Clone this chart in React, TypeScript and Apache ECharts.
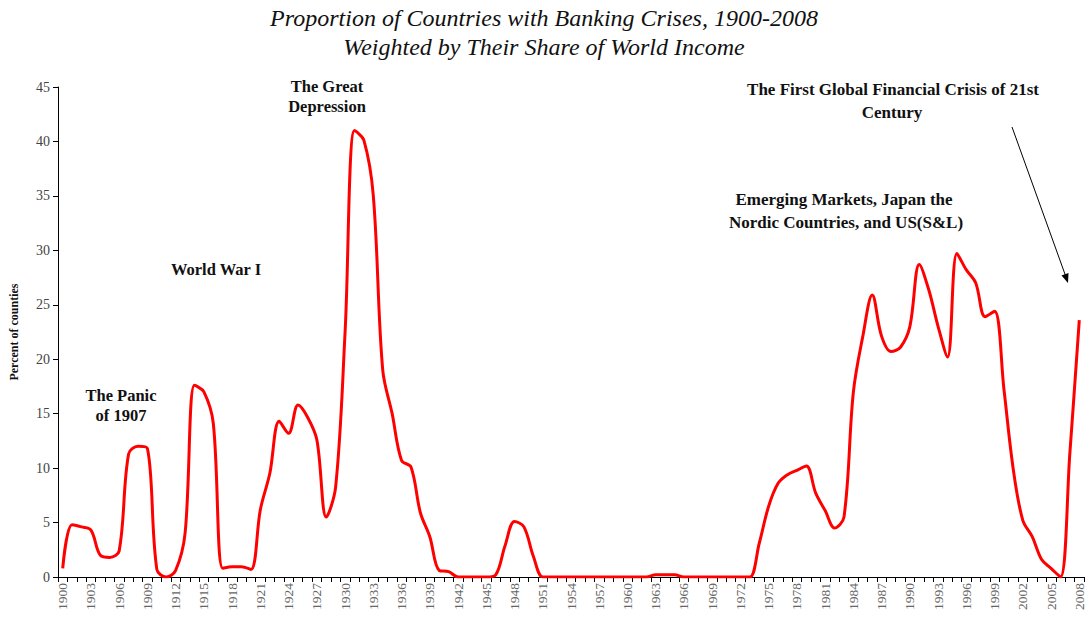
import React, { useEffect, useRef } from "react";
import * as echarts from "echarts";

const FIRST_YEAR = 1900;
const LAST_YEAR = 2008;
const years: string[] = [];
for (let y = FIRST_YEAR; y <= LAST_YEAR; y++) years.push(String(y));

// Percent of countries (weighted by share of world income), 1900-2008
const share1900s = [0.8, 4.8, 4.6, 4.3, 2.0, 1.8, 2.4, 11.3, 12.0, 11.8];
const share1910s = [0.7, 0.0, 0.6, 4.0, 17.6, 17.0, 14.1, 0.8, 0.95, 0.95];
const share1920s = [0.7, 6.2, 9.5, 14.3, 13.2, 15.8, 14.7, 12.6, 5.5, 8.3];
const share1930s = [22.5, 41.0, 40.1, 35.0, 19.0, 15.0, 10.7, 10.1, 5.9, 3.7];
const share1940s = [0.6, 0.5, 0, 0, 0, 0, 0.2, 2.9, 5.1, 4.6];
const share1950s = [1.9, 0, 0, 0, 0, 0, 0, 0, 0, 0];
const share1960s = [0, 0, 0, 0.2, 0.2, 0.2, 0, 0, 0, 0];
const share1970s = [0, 0, 0, 0, 3.1, 6.5, 8.6, 9.4, 9.8, 10.2];
const share1980s = [7.7, 6.1, 4.5, 5.5, 17.0, 22.1, 25.9, 22.1, 20.7, 21.1];
const share1990s = [23.0, 28.7, 26.4, 23.0, 20.2, 29.7, 28.2, 27.0, 23.9, 24.4];
const share2000s = [17.2, 9.8, 5.2, 3.7, 1.6, 0.8, 0, 11.4, 23.6];

const shares = [
  ...share1900s, ...share1910s, ...share1920s, ...share1930s, ...share1940s,
  ...share1950s, ...share1960s, ...share1970s, ...share1980s, ...share1990s, ...share2000s,
];

const yTicks = { min: 0, max: 45, interval: 5 };

const titleLines = [
  "Proportion of Countries with Banking Crises, 1900-2008",
  "Weighted by Their Share of World Income",
];
const yAxisName = "Percent of counties";

const serif = "'Liberation Serif', 'Times New Roman', serif";

export default function App() {
  const ref = useRef<HTMLDivElement>(null);
  useEffect(() => {
    document.body.style.margin = "0";
    if (!ref.current) return;
    const chart = echarts.init(ref.current, null, { renderer: "svg" });
    const annStyle = (text: string, size = 16.5) => ({
      text,
      font: `bold ${size}px ${serif}`,
      fill: "#111",
      textAlign: "center",
      textVerticalAlign: "middle",
    });
    chart.setOption({
      animation: false,
      backgroundColor: "#fff",
      title: {
        text: titleLines.join("\n"),
        left: "center",
        top: 3,
        padding: 0,
        textStyle: {
          fontFamily: serif,
          fontStyle: "italic",
          fontWeight: "normal",
          fontSize: 24,
          lineHeight: 29,
          color: "#111",
        },
      },
      grid: { left: 56, right: 4, top: 87, bottom: 49, containLabel: false },
      xAxis: {
        type: "category",
        data: years,
        boundaryGap: true,
        axisLine: { lineStyle: { color: "#000", width: 1 } },
        axisTick: { show: true, interval: 0, length: 5, alignWithLabel: false, lineStyle: { color: "#000" } },
        axisLabel: {
          interval: 2,
          rotate: 90,
          fontFamily: serif,
          fontSize: 13.5,
          color: "#666",
          margin: 6,
        },
      },
      yAxis: {
        type: "value",
        min: yTicks.min,
        max: yTicks.max,
        interval: yTicks.interval,
        name: yAxisName,
        nameLocation: "middle",
        nameGap: 38,
        nameTextStyle: { fontFamily: serif, fontWeight: "bold", fontSize: 12, color: "#111" },
        axisLine: { show: true, lineStyle: { color: "#000", width: 1 } },
        axisTick: { show: true, length: 5, lineStyle: { color: "#000" } },
        splitLine: { show: false },
        axisLabel: { fontFamily: serif, fontSize: 14, color: "#444", margin: 8 },
      },
      series: [
        {
          type: "line",
          data: shares,
          smooth: 0.35,
          showSymbol: false,
          lineStyle: { color: "#ff0000", width: 3 },
        },
      ],
      graphic: [
        { type: "text", x: 327, y: 86, style: annStyle("The Great") },
        { type: "text", x: 327, y: 106, style: annStyle("Depression") },
        { type: "text", x: 216, y: 269, style: annStyle("World War I") },
        { type: "text", x: 121, y: 395, style: annStyle("The Panic") },
        { type: "text", x: 121, y: 415, style: annStyle("of 1907") },
        { type: "text", x: 844, y: 199, style: annStyle("Emerging Markets, Japan the", 17) },
        { type: "text", x: 846, y: 222, style: annStyle("Nordic Countries, and US(S&L)", 17) },
        { type: "text", x: 893, y: 89, style: annStyle("The First Global Financial Crisis of 21st", 17) },
        { type: "text", x: 892, y: 112, style: annStyle("Century", 17) },
        {
          type: "line",
          shape: { x1: 1012, y1: 127, x2: 1066, y2: 277 },
          style: { stroke: "#000", lineWidth: 1 },
        },
        {
          type: "polygon",
          shape: { points: [[1068, 283], [1068.5, 273], [1061.5, 275.5]] },
          style: { fill: "#000" },
        },
      ],
    });
    return () => chart.dispose();
  }, []);
  return <div ref={ref} style={{ width: 1088, height: 626 }} />;
}
